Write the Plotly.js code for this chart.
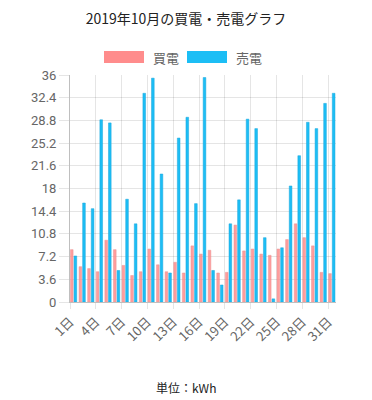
<!DOCTYPE html>
<html>
<head>
<meta charset="utf-8">
<script src="https://cdn.plot.ly/plotly-3.0.1.min.js"></script>
<style>html,body{margin:0;padding:0;background:#fff;}#chart{width:372px;height:400px;}</style>
</head>
<body>
<div id="chart"></div>
<script>
const days = [1,2,3,4,5,6,7,8,9,10,11,12,13,14,15,16,17,18,19,20,21,22,23,24,25,26,27,28,29,30,31];
const buyPower = [8.3,5.6,5.3,4.8,9.8,8.3,5.8,4.2,4.8,8.4,5.9,4.8,6.3,4.6,8.9,7.6,8.2,4.6,4.7,12.2,8.1,8.4,7.6,7.4,8.4,9.9,12.4,10.2,8.9,4.7,4.5];
const sellPower = [7.3,15.7,14.8,28.9,28.4,5.0,16.3,12.4,33.1,35.5,20.3,4.6,26.0,29.3,15.6,35.6,5.0,2.7,12.4,16.2,29.0,27.5,10.2,0.5,8.6,18.4,23.2,28.5,27.5,31.5,33.1];
const seriesNames = ['買電','売電'];
const xTickDays = [1,4,7,10,13,16,19,22,25,28,31];
const xTickText = xTickDays.map(d => d + '日');
const yTickVals = [0,3.6,7.2,10.8,14.4,18,21.6,25.2,28.8,32.4,36];
const yTickText = ['0','3.6','7.2','10.8','14.4','18','21.6','25.2','28.8','32.4','36'];
const titleText = '2019年10月の買電・売電グラフ';
const unitText = '単位：kWh';

const W = 372, H = 400, ML = 70, MR = 36, MT = 75, MB = 98;
const pw = W - ML - MR, ph = H - MT - MB;
const px = x => (x - ML) / pw;
const py = y => (H - MB - y) / ph;

const buyColor = '#FF8C8C', buyLine = '#E88282';
const sellColor = '#1CBEF5', sellLine = '#1AA6DC';
const jp = '"Noto Sans CJK JP", "Noto Sans", sans-serif';

const traces = [
  {type:'bar', x: days, y: buyPower, name: seriesNames[0], offset: 0.05, width: 0.31,
   marker:{color: buyColor, opacity: 0.85, line:{color: buyLine, width: 0.5}}, hoverinfo:'y'},
  {type:'bar', x: days, y: sellPower, name: seriesNames[1], offset: 0.47, width: 0.31,
   marker:{color: sellColor, line:{color: sellLine, width: 0.5}}, hoverinfo:'y'}
];

const layout = {
  width: W, height: H,
  margin: {l: ML, r: MR, t: MT, b: MB, pad: 0},
  paper_bgcolor: '#fff', plot_bgcolor: '#fff',
  showlegend: false,
  barmode: 'overlay',
  bargap: 0,
  title: {text: titleText, x: 0.5, xref: 'container', y: 1 - 19/H, yref: 'container', yanchor: 'middle',
          font: {family: jp, size: 14, color: '#222'}},
  xaxis: {
    type: 'linear', range: [1, 31.9], tickmode: 'array', tickvals: xTickDays, ticktext: xTickText,
    tickangle: -45, showgrid: true, gridcolor: 'rgba(0,0,0,0.1)', gridwidth: 1,
    ticks: 'outside', ticklen: 6, tickcolor: 'rgba(0,0,0,0.1)',
    showline: true, linecolor: 'rgba(0,0,0,0.25)', linewidth: 1, zeroline: false,
    tickfont: {family: jp, size: 13, color: '#666'}, fixedrange: true
  },
  yaxis: {
    range: [0, 36], tickmode: 'array', tickvals: yTickVals, ticktext: yTickText,
    showgrid: true, gridcolor: 'rgba(0,0,0,0.1)', gridwidth: 1,
    ticks: 'outside', ticklen: 10, tickcolor: 'rgba(0,0,0,0.1)',
    showline: true, linecolor: 'rgba(0,0,0,0.25)', linewidth: 1, zeroline: false,
    tickfont: {family: 'Roboto, sans-serif', size: 13, color: '#666'}, fixedrange: true
  },
  shapes: [
    {type:'rect', xref:'paper', yref:'paper', x0: px(104), x1: px(144), y0: py(63), y1: py(51),
     fillcolor: buyColor, line:{width:0}},
    {type:'rect', xref:'paper', yref:'paper', x0: px(187), x1: px(227), y0: py(63), y1: py(51),
     fillcolor: sellColor, line:{width:0}}
  ],
  annotations: [
    {text: seriesNames[0], xref:'paper', yref:'paper', x: px(151), y: py(57), xanchor:'left', yanchor:'middle',
     showarrow:false, font:{family: jp, size: 13, color:'#666'}},
    {text: seriesNames[1], xref:'paper', yref:'paper', x: px(234), y: py(57), xanchor:'left', yanchor:'middle',
     showarrow:false, font:{family: jp, size: 13, color:'#666'}},
    {text: unitText, xref:'paper', yref:'paper', x: px(186), y: py(387), xanchor:'center', yanchor:'middle',
     showarrow:false, font:{family: jp, size: 12, color:'#222'}}
  ]
};

Plotly.newPlot('chart', traces, layout, {displayModeBar: false, staticPlot: true});
</script>
</body>
</html>
